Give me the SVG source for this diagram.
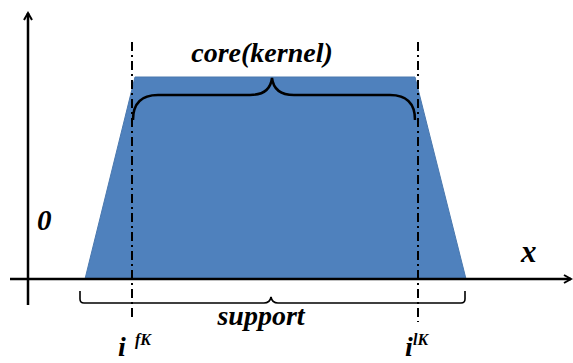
<svg xmlns="http://www.w3.org/2000/svg" width="573" height="363" viewBox="0 0 573 363">
<defs>
<style>
.ax{stroke:#000;stroke-width:2.5;fill:none}
.dd{stroke:#000;stroke-width:2;fill:none;stroke-dasharray:9 4 2 4}
.br{stroke:#000;stroke-width:2.5;fill:none}
.br2{stroke:#000;stroke-width:1.6;fill:none}
.t{font-family:'Liberation Serif','Times New Roman',serif;font-style:italic;font-weight:700;fill:#000}
</style>
<marker id="arr" markerWidth="10" markerHeight="10" refX="8" refY="5" orient="auto" markerUnits="userSpaceOnUse">
<path d="M1,1 L8,5 L1,9" fill="none" stroke="#000" stroke-width="2"/>
</marker>
</defs>
<g id="shape">
<polygon points="85,279 135,77 415,77 466,279" fill="#4F81BD" stroke="#4a78ae" stroke-width="1"/>
</g>
<g id="connectors">
<line class="ax" x1="28" y1="305" x2="28" y2="13" marker-end="url(#arr)"/>
<line class="ax" x1="10" y1="279" x2="571" y2="279" marker-end="url(#arr)"/>
<line class="dd" x1="132" y1="42" x2="132" y2="320"/>
<line class="dd" x1="418" y1="42" x2="418" y2="322"/>
<path class="br" d="M133,120 Q133,95 158,95 L250,95 Q270,95 272,78 Q274,95 294,95 L390,95 Q415,95 415,120"/>
<path class="br2" d="M80,291 L80,299 Q80,303 84,303 L264,303 Q270,303 271,297 Q272,303 278,303 L461,303 Q465,303 465,299 L465,291"/>
</g>
<g id="labels">
<text class="t" x="262" y="62" font-size="28" text-anchor="middle">core(kernel)</text>
<text class="t" x="261" y="325" font-size="28" text-anchor="middle">support</text>
<text class="t" x="37" y="230" font-size="29">0</text>
<text class="t" x="521" y="262" font-size="31">x</text>
<text class="t" x="118" y="356" font-size="28">i</text>
<text class="t" x="135" y="345" font-size="16">fK</text>
<text class="t" x="405" y="356" font-size="28">i</text>
<text class="t" x="413" y="345" font-size="16">lK</text>
</g>
</svg>
